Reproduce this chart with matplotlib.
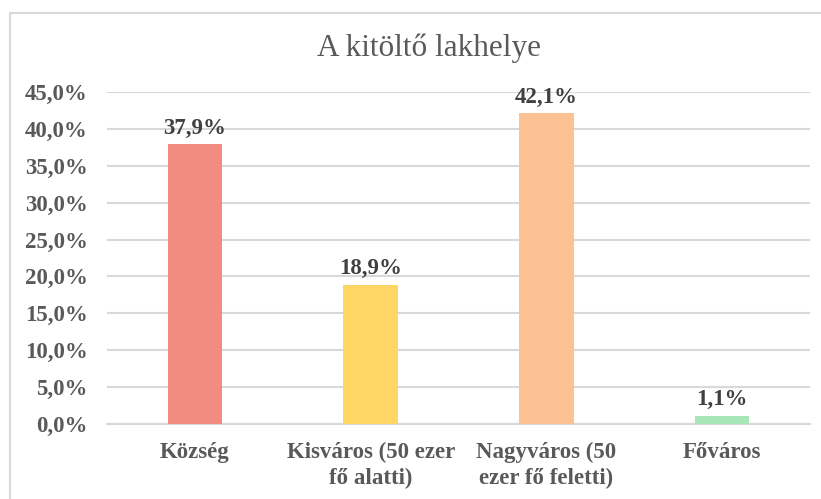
import matplotlib
matplotlib.use("Agg")
import matplotlib.pyplot as plt
from matplotlib.patches import Rectangle
from matplotlib.ticker import FuncFormatter, MultipleLocator

categories = ["Község", "Kisváros (50 ezer\nfő alatti)", "Nagyváros (50\nezer fő feletti)", "Főváros"]
values = [37.9, 18.9, 42.1, 1.1]
colors = ["#F28B82", "#FDD663", "#FCC293", "#A8E6B8"]
title = "A kitöltő lakhelye"

plt.rcParams['font.family'] = ['Liberation Serif', 'DejaVu Serif']

fig = plt.figure(figsize=(8.21, 4.99), dpi=100)
ax = fig.add_axes([107/821, 1 - 424/499, (810 - 107)/821, (424 - 92)/499])

x = range(len(categories))
bars = ax.bar(x, values, width=0.31, color=colors, zorder=3)
for xi, v in zip(x, values):
    ax.annotate(f"{v:.1f}%".replace(".", ","), (xi, v), xytext=(0, 4), textcoords="offset points",
                ha="center", va="bottom", fontsize=16.5, fontweight="bold", color="#404040")

ax.set_xlim(-0.5, len(categories) - 0.5)
ax.set_ylim(0, 45)
ax.yaxis.set_major_locator(MultipleLocator(5))
ax.yaxis.set_major_formatter(FuncFormatter(lambda v, p: f"{v:.1f}%".replace(".", ",")))
ax.set_xticks(list(x))
ax.set_xticklabels(categories, linespacing=1.3)
ax.grid(axis="y", color="#D9D9D9", linewidth=1.5, zorder=0)
for s in ["top", "right", "left"]:
    ax.spines[s].set_visible(False)
ax.spines["bottom"].set_color("#D9D9D9")
ax.spines["bottom"].set_linewidth(1.5)
ax.tick_params(axis="both", length=0, labelsize=16.5, labelcolor="#595959")
ax.tick_params(axis="y", pad=14)
ax.tick_params(axis="x", pad=13)
for lab in ax.get_xticklabels() + ax.get_yticklabels():
    lab.set_fontweight("bold")

fig.text(429/821, 1 - 48/499, title, ha="center", va="center", fontsize=22.5, color="#595959")

fig.patches.append(Rectangle((10/821, -0.1), 1.2, 1 - 13/499 + 0.1, transform=fig.transFigure,
                             fill=False, edgecolor="#D9D9D9", linewidth=1.5, zorder=0))

fig.savefig("out.png", dpi=100)
